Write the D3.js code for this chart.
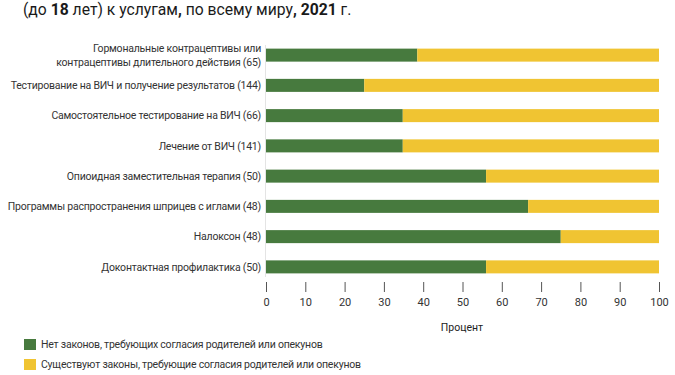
<!DOCTYPE html>
<html>
<head>
<meta charset="utf-8">
<script src="https://cdn.jsdelivr.net/npm/d3@7"></script>
<style>
  body { margin: 0; background: #fff; }
  svg { font-family: Roboto, "Noto Sans", sans-serif; }
</style>
</head>
<body>
<div class="canvas"></div>
<script>
const dims = {height: 375, width: 675};

// data
const categories = [
	['Гормональные контрацептивы или', 'контрацептивы длительного действия (65)'],
	['Тестирование на ВИЧ и получение результатов (144)'],
	['Самостоятельное тестирование на ВИЧ (66)'],
	['Лечение от ВИЧ (141)'],
	['Опиоидная заместительная терапия (50)'],
	['Программы распространения шприцев с иглами (48)'],
	['Налоксон (48)'],
	['Доконтактная профилактика (50)']
];
const noLaws = [38.5, 25, 34.8, 34.8, 56, 66.7, 75, 56];
const laws = noLaws.map(v => 100 - v);
const seriesNames = [
	'Нет законов, требующих согласия родителей или опекунов',
	'Существуют законы, требующие согласия родителей или опекунов'
];
const colours = ['#477a3e', '#f0c432'];
const xTicks = [0, 10, 20, 30, 40, 50, 60, 70, 80, 90, 100];

const svg = d3.select('.canvas')
	.append('svg')
	.attr('width', dims.width)
	.attr('height', dims.height);

// title (top part cut off in the original)
const title = svg.append('text')
	.attr('x', 23)
	.attr('y', 15)
	.attr('font-size', 15.7)
	.attr('fill', '#1a1a1a');
[['(до ', 400], ['18', 700], [' лет) к услугам', 400], [',', 700], [' по всему миру', 400], [', 2021', 700], [' г.', 400]]
	.forEach(p => title.append('tspan').attr('font-weight', p[1]).text(p[0]));

// scales
const x = d3.scaleLinear().domain([0, 100]).range([266, 659]);
const y = d3.scaleBand()
	.domain(d3.range(categories.length))
	.range([40, 282])
	.paddingInner(0.57)
	.paddingOuter(0.285);

// stacked data
const rows = categories.map((c, i) => ({i, a: noLaws[i], b: laws[i]}));
const stack = d3.stack().keys(['a', 'b'])(rows);

// faint axis line
svg.append('line')
	.attr('x1', x(0) - 0.5).attr('x2', x(0) - 0.5)
	.attr('y1', 45).attr('y2', 277)
	.attr('stroke', '#e4e4e4');

svg.append('g')
	.selectAll('g')
	.data(stack)
	.join('g')
		.attr('fill', (d, i) => colours[i])
	.selectAll('rect')
	.data(d => d)
	.join('rect')
		.attr('x', d => x(d[0]))
		.attr('y', d => y(d.data.i))
		.attr('width', d => x(d[1]) - x(d[0]))
		.attr('height', y.bandwidth());

// category labels
const labels = svg.append('g')
	.selectAll('text')
	.data(categories)
	.join('text')
		.attr('x', 261)
		.attr('y', (d, i) => y(i) + y.bandwidth() / 2)
		.attr('text-anchor', 'end')
		.attr('font-size', 10.5)
		.attr('letter-spacing', -0.22)
		.attr('fill', '#333');
labels.each(function(d) {
	const t = d3.select(this);
	d.forEach((line, j) => {
		t.append('tspan')
			.attr('x', 261)
			.attr('dy', j === 0 ? (d.length === 1 ? '0.35em' : (0.35 - 0.65) + 'em') : '1.3em')
			.text(line);
	});
});

// x axis
const xAxis = d3.axisBottom(x)
	.tickValues(xTicks)
	.tickSize(10)
	.tickPadding(6);
const gx = svg.append('g')
	.attr('transform', 'translate(0, 282)')
	.call(xAxis);
gx.select('.domain').remove();
gx.selectAll('line').attr('stroke', '#555');
gx.selectAll('text')
	.attr('font-size', 11)
	.attr('font-family', 'Roboto, sans-serif')
	.attr('fill', '#333');

svg.append('text')
	.attr('x', 462)
	.attr('y', 331)
	.attr('text-anchor', 'middle')
	.attr('font-size', 10.5)
	.attr('fill', '#222')
	.text('Процент');

// legend
const legend = svg.append('g')
	.selectAll('g')
	.data(seriesNames)
	.join('g')
		.attr('transform', (d, i) => `translate(24, ${339 + i * 20})`);
legend.append('rect')
	.attr('width', 12)
	.attr('height', 11)
	.attr('fill', (d, i) => colours[i]);
legend.append('text')
	.attr('x', 17)
	.attr('y', 5.5)
	.attr('dy', '0.35em')
	.attr('font-size', 10.5)
	.attr('letter-spacing', -0.22)
	.attr('fill', '#333')
	.text(d => d);
</script>
</body>
</html>
